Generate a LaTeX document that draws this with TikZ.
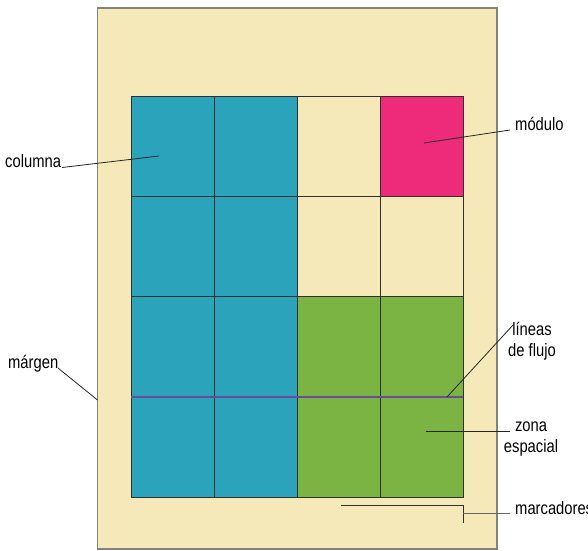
\documentclass[tikz,border=0pt]{standalone}
\usepackage{fontspec}
\setmainfont[FakeStretch=0.82]{Liberation Sans}
\definecolor{cream}{HTML}{F5E9B9}
\definecolor{teal}{HTML}{2BA3BB}
\definecolor{magenta}{HTML}{EE2A7B}
\definecolor{green}{HTML}{7BB443}
\definecolor{purple}{HTML}{6A4C9C}
\definecolor{pagegray}{HTML}{85817B}
\definecolor{gridline}{HTML}{303030}
\tikzset{
  lbl/.style={font=\fontsize{18}{20.5}\selectfont, inner sep=0pt, align=center},
  leader/.style={draw=black!85, line width=0.8pt},
  cell/.style={draw=gridline, line width=0.8pt},
}
\begin{document}
\begin{tikzpicture}[x=1pt,y=-1pt]
\useasboundingbox (0,0) rectangle (588,550);
\fill[white] (0,0) rectangle (588,550);
% page
\draw[fill=cream, draw=pagegray, line width=1.3pt] (97.5,8) rectangle (497,549);
% cells
\draw[cell, fill=teal] (131,96.5) rectangle (214,196.5);
\draw[cell, fill=teal] (214,96.5) rectangle (297,196.5);
\draw[cell, fill=cream] (297,96.5) rectangle (380,196.5);
\draw[cell, fill=magenta] (380,96.5) rectangle (463,196.5);
\draw[cell, fill=teal] (131,196.5) rectangle (214,296.5);
\draw[cell, fill=teal] (214,196.5) rectangle (297,296.5);
\draw[cell, fill=cream] (297,196.5) rectangle (380,296.5);
\draw[cell, fill=cream] (380,196.5) rectangle (463,296.5);
\draw[cell, fill=teal] (131,296.5) rectangle (214,397);
\draw[cell, fill=teal] (214,296.5) rectangle (297,397);
\draw[cell, fill=green] (297,296.5) rectangle (380,397);
\draw[cell, fill=green] (380,296.5) rectangle (463,397);
\draw[cell, fill=teal] (131,397) rectangle (214,497);
\draw[cell, fill=teal] (214,397) rectangle (297,497);
\draw[cell, fill=green] (297,397) rectangle (380,497);
\draw[cell, fill=green] (380,397) rectangle (463,497);
% flow line
\coordinate (flowL) at (131,397);
\coordinate (flowR) at (463,397);
\draw[purple, line width=1.8pt] (flowL) -- (flowR);
% markers
\coordinate (mkA) at (341,505);
\coordinate (mkB) at (463,505);
\coordinate (mkC) at (463,523);
\coordinate (mkD) at (463,513);
\draw[gridline, line width=0.9pt] (mkA) -- (mkB) -- (mkC);
% labels
\node[lbl, anchor=base west] (columna) at (5,167) {columna};
\node[lbl, anchor=base west] (modulo) at (515,130) {módulo};
\node[lbl, anchor=base west] (margen) at (8,368) {márgen};
\node[lbl, anchor=base] (lineas) at (532,356) {líneas\\de flujo};
\node[lbl, anchor=base] (zona) at (531,452) {zona\\espacial};
\node[lbl, anchor=base west] (marc) at (515,514) {marcadores};
% leader targets
\coordinate (tCol) at (159,156);
\coordinate (tMod) at (424,143);
\coordinate (tMar) at (97.5,400);
\coordinate (tLin) at (447,397);
\coordinate (tZon) at (426,431);
\draw[leader] (62,167.5) -- (tCol);
\draw[leader] (510,130) -- (tMod);
\draw[leader] (58,368) -- (tMar);
\draw[leader] (513,325) -- (tLin);
\draw[leader] (510,431) -- (tZon);
\draw[draw=black!60, line width=0.9pt] (mkD) -- (510,513);
\end{tikzpicture}
\end{document}
